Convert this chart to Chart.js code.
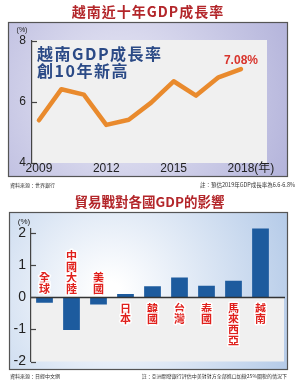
<!DOCTYPE html>
<html><head><meta charset="utf-8">
<script src="https://cdn.jsdelivr.net/npm/chart.js@4.4.1/dist/chart.umd.min.js"></script>
<style>
html,body{margin:0;padding:0;background:#fff;}
#wrap{position:relative;width:300px;height:385px;overflow:hidden;}
#c1{position:absolute;left:0;top:0;}
#c2{position:absolute;left:0;top:192px;}
</style></head>
<body>
<div id="wrap">
<canvas id="c1" width="300" height="192"></canvas>
<canvas id="c2" width="300" height="193"></canvas>
</div>
<script>
// ---- data: chart 1 (Vietnam GDP growth) ----
const years = [2009, 2010, 2011, 2012, 2013, 2014, 2015, 2016, 2017, 2018];
const gdpGrowth = [5.40, 6.42, 6.24, 5.25, 5.42, 5.98, 6.68, 6.21, 6.81, 7.08];
const yearTicks = [2009, 2012, 2015, 2018];
const gdpTicks = [4, 6, 8];
// ---- data: chart 2 (trade war impact) ----
const countries = ['全球', '中國大陸', '美國', '日本', '韓國', '台灣', '泰國', '馬來西亞', '越南'];
const tradeWarImpact = [-0.17, -1.02, -0.22, 0.11, 0.35, 0.62, 0.36, 0.52, 2.20];
const impactTicks = [-2, -1, 0, 1, 2];

const CJK = '"Noto Sans CJK TC","Noto Sans CJK SC",sans-serif';
const SANS = '"Liberation Sans",Arial,"Noto Sans CJK TC",sans-serif';

const topDeco = {
  id: 'topDeco',
  beforeDraw(chart) {
    const ctx = chart.ctx, a = chart.chartArea;
    ctx.save();
    ctx.fillStyle = '#fff'; ctx.fillRect(0, 0, chart.width, chart.height);
    ctx.font = '700 14px ' + CJK; ctx.fillStyle = '#b3262a';
    ctx.textAlign = 'center'; ctx.textBaseline = 'middle';
    ctx.letterSpacing = '1px';
    ctx.fillText('越南近十年GDP成長率', 148, 12);
    ctx.letterSpacing = '0px';
    const g = ctx.createRadialGradient(120, 95, 10, 120, 95, 190);
    g.addColorStop(0, '#e8e8f5'); g.addColorStop(1, '#b2b2da');
    ctx.fillStyle = g; ctx.fillRect(8.5, 22.5, 279, 154);
    ctx.strokeStyle = '#555'; ctx.lineWidth = 1.2; ctx.strokeRect(8.5, 22.5, 279, 154);
    ctx.fillStyle = '#f0f0f0';
    ctx.fillRect(a.left, a.top - 1, a.right - a.left, a.bottom - a.top + 1);
    ctx.restore();
  },
  afterDraw(chart) {
    const ctx = chart.ctx, a = chart.chartArea, xs = chart.scales.x, ys = chart.scales.y;
    ctx.save();
    ctx.strokeStyle = '#444'; ctx.lineWidth = 1.2;
    gdpTicks.forEach(v => {
      const y = Math.round(ys.getPixelForValue(v)) + 0.5;
      ctx.beginPath(); ctx.moveTo(a.left, y); ctx.lineTo(a.left + 5, y); ctx.stroke();
    });
    ctx.fillStyle = '#222'; ctx.textBaseline = 'middle';
    ctx.font = '7px ' + SANS; ctx.textAlign = 'center';
    ctx.fillText('(%)', 22, 30);
    ctx.font = '12px ' + SANS;
    yearTicks.forEach((t, i) => {
      const x = xs.getPixelForValue(t);
      const s = String(t);
      ctx.textAlign = 'center';
      ctx.fillText(s, x, 169);
      if (i === yearTicks.length - 1) {
        const w = ctx.measureText(s).width;
        ctx.textAlign = 'left';
        ctx.fillText('(年)', x + w / 2, 169);
      }
    });
    // inner headline
    ctx.font = '700 16px ' + CJK; ctx.fillStyle = '#2b4a86';
    ctx.textAlign = 'left'; ctx.letterSpacing = '1.5px';
    ctx.fillText('越南GDP成長率', 37, 54);
    ctx.fillText('創10年新高', 37, 71);
    ctx.letterSpacing = '0px';
    // last value label
    const meta = chart.getDatasetMeta(0);
    const last = meta.data[meta.data.length - 1];
    ctx.font = '700 12px ' + SANS; ctx.fillStyle = '#d8342c'; ctx.textAlign = 'center';
    ctx.fillText(gdpGrowth[gdpGrowth.length - 1].toFixed(2) + '%', last.x, last.y - 8);
    // footnotes
    ctx.font = '5px ' + CJK; ctx.fillStyle = '#333';
    ctx.textAlign = 'left'; ctx.fillText('資料來源：世界銀行', 10, 185);
    ctx.font = '5.5px ' + CJK;
    ctx.textAlign = 'right'; ctx.fillText('註：預估2019年GDP成長率為6.6-6.8%', 295, 185);
    ctx.restore();
  }
};

new Chart(document.getElementById('c1'), {
  type: 'line',
  data: {
    datasets: [{
      data: years.map((y, i) => ({ x: y, y: gdpGrowth[i] })),
      borderColor: '#e98a2d', borderWidth: 4.5, pointRadius: 0, tension: 0,
      borderJoinStyle: 'round', borderCapStyle: 'round', fill: false
    }]
  },
  options: {
    responsive: false, animation: false, devicePixelRatio: 1,
    layout: { padding: { left: 12, right: 33, top: 41, bottom: 29 } },
    plugins: { legend: { display: false }, tooltip: { enabled: false } },
    scales: {
      x: { type: 'linear', min: 2008.69, max: 2019.16, display: false },
      y: {
        min: 4, max: 8,
        afterBuildTicks: s => { s.ticks = gdpTicks.map(v => ({ value: v })); },
        afterFit: s => { s.width = 20; },
        grid: { display: false, drawTicks: false },
        border: { display: true, color: '#444', width: 1.2 },
        ticks: { color: '#222', font: { family: SANS, size: 12 }, padding: 6 }
      }
    }
  },
  plugins: [topDeco]
});

const botDeco = {
  id: 'botDeco',
  beforeDraw(chart) {
    const ctx = chart.ctx, a = chart.chartArea, ys = chart.scales.y;
    ctx.save();
    ctx.fillStyle = '#fff'; ctx.fillRect(0, 0, chart.width, chart.height);
    ctx.font = '700 13.5px ' + CJK; ctx.fillStyle = '#b3262a';
    ctx.textAlign = 'center'; ctx.textBaseline = 'middle';
    ctx.fillText('貿易戰對各國GDP的影響', 149.5, 10);
    const g = ctx.createRadialGradient(110, 100, 10, 110, 100, 210);
    g.addColorStop(0, '#ffffff'); g.addColorStop(1, '#aec6e6');
    ctx.fillStyle = g; ctx.fillRect(9.5, 20.5, 278, 157);
    ctx.strokeStyle = '#555'; ctx.lineWidth = 1.2; ctx.strokeRect(9.5, 20.5, 278, 157);
    const z = ys.getPixelForValue(0);
    ctx.fillStyle = '#f0f0f0';
    ctx.fillRect(a.left, z, 284 - a.left, a.bottom - z);
    ctx.restore();
  },
  afterDatasetsDraw(chart) {
    const ctx = chart.ctx, a = chart.chartArea, xs = chart.scales.x, ys = chart.scales.y;
    const z = ys.getPixelForValue(0);
    ctx.save();
    ctx.strokeStyle = '#333'; ctx.lineWidth = 1.5;
    ctx.beginPath(); ctx.moveTo(a.left, z); ctx.lineTo(285, z); ctx.stroke();
    ctx.strokeStyle = '#444'; ctx.lineWidth = 1.2;
    impactTicks.forEach(v => {
      const y = Math.round(ys.getPixelForValue(v)) + 0.5;
      ctx.beginPath(); ctx.moveTo(a.left, y); ctx.lineTo(a.left + 5, y); ctx.stroke();
    });
    // vertical country labels
    ctx.font = '700 11px ' + CJK; ctx.textAlign = 'center'; ctx.textBaseline = 'middle';
    ctx.lineJoin = 'round';
    countries.forEach((name, i) => {
      const x = xs.getPixelForValue(i);
      const chars = Array.from(name);
      const n = chars.length;
      chars.forEach((ch, k) => {
        const y = tradeWarImpact[i] < 0 ? z - 9 - (n - 1 - k) * 10.8 : z + 11 + k * 10.8;
        ctx.strokeStyle = 'rgba(255,255,255,0.95)'; ctx.lineWidth = 3;
        ctx.strokeText(ch, x, y);
        ctx.fillStyle = '#e0201c';
        ctx.fillText(ch, x, y);
      });
    });
    ctx.fillStyle = '#222'; ctx.font = '8px ' + SANS;
    ctx.fillText('(%)', 24, 30);
    ctx.font = '5px ' + CJK; ctx.fillStyle = '#333';
    ctx.textAlign = 'left'; ctx.fillText('資料來源：日經中文網', 10, 184);
    ctx.textAlign = 'right'; ctx.fillText('註：亞洲開發銀行評估中美對對方全部進口加徵25%關稅的情況下', 287, 184);
    ctx.restore();
  }
};

new Chart(document.getElementById('c2'), {
  type: 'bar',
  data: {
    labels: countries,
    datasets: [{ data: tradeWarImpact, backgroundColor: '#1d5b9e', borderWidth: 0,
      categoryPercentage: 1, barPercentage: 0.62 }]
  },
  options: {
    responsive: false, animation: false, devicePixelRatio: 1,
    layout: { padding: { left: 12, right: 26, top: 36.5, bottom: 23.5 } },
    plugins: { legend: { display: false }, tooltip: { enabled: false } },
    scales: {
      x: { display: false },
      y: {
        min: -2, max: 2.15,
        afterBuildTicks: s => { s.ticks = impactTicks.map(v => ({ value: v })); },
        afterFit: s => { s.width = 19; },
        grid: { display: false, drawTicks: false },
        border: { display: true, color: '#444', width: 1.2 },
        ticks: { color: '#222', font: { family: SANS, size: 14 }, padding: 5 }
      }
    }
  },
  plugins: [botDeco]
});
</script>
</body></html>
